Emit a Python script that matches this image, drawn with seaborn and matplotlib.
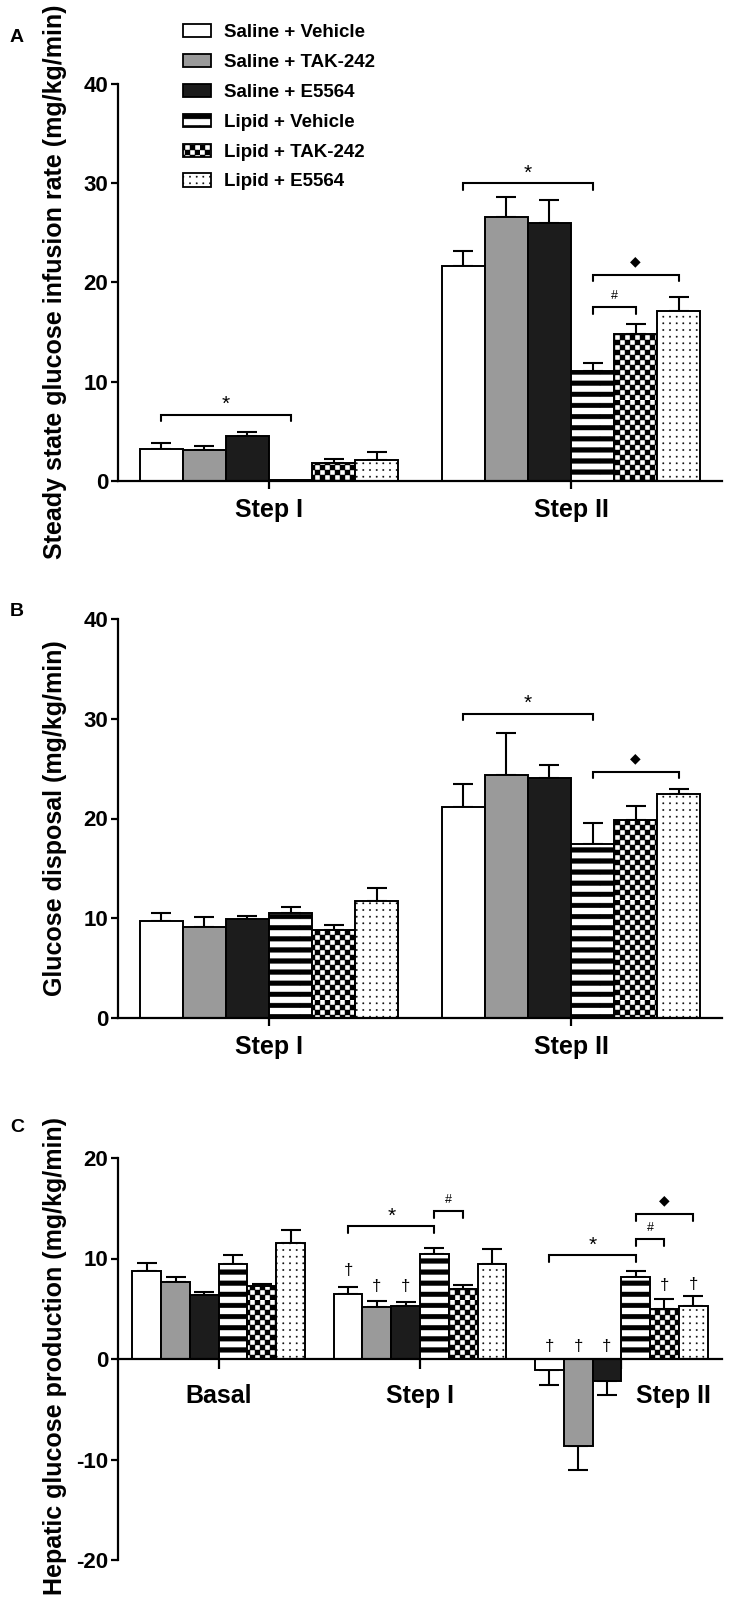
import matplotlib
matplotlib.use("Agg")
import matplotlib.hatch as mhatch
import matplotlib.pyplot as plt
import matplotlib.transforms as mtransforms
import pandas as pd
import seaborn as sns
from matplotlib.patches import Patch
from matplotlib.path import Path

# ---- data -----------------------------------------------------------------
GROUPS = ["Saline + Vehicle", "Saline + TAK-242", "Saline + E5564",
          "Lipid + Vehicle", "Lipid + TAK-242", "Lipid + E5564"]
COLORS = ["white", "#9a9a9a", "#1c1c1c", "white", "white", "white"]
HATCHES = [None, None, None, "o", "O", "."]  # stripes, checker, dots (see below)

STEPS_AB = ["Step I", "Step II"]
STEPS_C = ["Basal", "Step I", "Step II"]

# A: steady state glucose infusion rate, rows follow GROUPS
GIR_MEAN = [[3.2, 21.7], [3.1, 26.6], [4.5, 26.0],
            [0.1, 11.1], [1.8, 14.8], [2.1, 17.1]]
GIR_SEM = [[0.65, 1.45], [0.45, 2.0], [0.4, 2.3],
           [0.0, 0.75], [0.4, 1.0], [0.8, 1.4]]

# B: glucose disposal
RD_MEAN = [[9.7, 21.2], [9.1, 24.4], [9.9, 24.1],
           [10.5, 17.4], [8.8, 19.8], [11.7, 22.5]]
RD_SEM = [[0.8, 2.25], [1.0, 4.2], [0.35, 1.25],
          [0.6, 2.1], [0.55, 1.5], [1.3, 0.5]]

# C: hepatic glucose production
HGP_MEAN = [[8.8, 6.5, -1.1], [7.7, 5.2, -8.7], [6.4, 5.3, -2.2],
            [9.5, 10.4, 8.2], [7.3, 7.0, 5.0], [11.5, 9.5, 5.3]]
HGP_SEM = [[0.8, 0.65, 1.5], [0.5, 0.55, 2.3], [0.25, 0.35, 1.35],
           [0.8, 0.6, 0.55], [0.15, 0.35, 1.0], [1.3, 1.45, 0.95]]

# significance brackets: (step index, from group, to group, y, symbol)
SIG_A = [(0, 0, 3, 6.7, "*"), (1, 0, 3, 30.0, "*"),
         (1, 3, 5, 20.8, "\u25c6"), (1, 3, 4, 17.5, "#")]
SIG_B = [(1, 0, 3, 30.5, "*"), (1, 3, 5, 24.7, "\u25c6")]
SIG_C = [(1, 0, 3, 13.2, "*"), (1, 3, 4, 14.7, "#"),
         (2, 0, 3, 10.3, "*"), (2, 3, 4, 11.9, "#"), (2, 3, 5, 14.4, "\u25c6")]
# daggers in C: (step index, group, y)
DAGGER_C = [(1, 0, 8.8), (1, 1, 7.2), (1, 2, 7.2),
            (2, 0, 1.2), (2, 1, 1.2), (2, 2, 1.2), (2, 4, 7.3), (2, 5, 7.4)]

W, H = 731, 1599
BAR_SPAN = 6 / 7
DROP = 0.65
SYM_STYLE = {"*": (15, 1.0), "#": (9, 1.1), "\u25c6": (10, 1.35)}


# ---- custom fill patterns (GraphPad-like stripes / checker / dots) ---------
def _rects(vertices, codes, boxes):
    k = 0
    for x0, y0, x1, y1 in boxes:
        vertices[k:k + 5] = [(x0, y0), (x1, y0), (x1, y1), (x0, y1), (x0, y0)]
        codes[k:k + 5] = [Path.MOVETO, Path.LINETO, Path.LINETO,
                          Path.LINETO, Path.CLOSEPOLY]
        k += 5


class StripeHatch(mhatch.HatchPatternBase):
    def __init__(self, hatch, density):
        self.n = 9 if "o" in hatch else 0
        self.num_vertices = self.n * 5

    def set_vertices_and_codes(self, vertices, codes):
        n = self.n
        _rects(vertices, codes,
               [(0, (i + 0.3) / n, 1, (i + 0.72) / n) for i in range(n)])


class CheckerHatch(mhatch.HatchPatternBase):
    def __init__(self, hatch, density):
        self.n = 20 if "O" in hatch else 0
        self.num_vertices = (self.n * self.n // 2) * 5

    def set_vertices_and_codes(self, vertices, codes):
        n = self.n
        _rects(vertices, codes,
               [(i / n, j / n, (i + 1) / n, (j + 1) / n)
                for j in range(n) for i in range(n) if (i + j) % 2 == 0])


class DotHatch(mhatch.HatchPatternBase):
    def __init__(self, hatch, density):
        self.n = 15 if "." in hatch else 0
        self.num_vertices = self.n * self.n * 5

    def set_vertices_and_codes(self, vertices, codes):
        n, s = self.n, 0.006
        _rects(vertices, codes,
               [((i + 0.5) / n - s, (j + 0.5) / n - s, (i + 0.5) / n + s, (j + 0.5) / n + s)
                for j in range(n) for i in range(n)])


mhatch._hatch_types[:] = [mhatch.HorizontalHatch, mhatch.VerticalHatch,
                          mhatch.NorthEastHatch, mhatch.SouthEastHatch,
                          StripeHatch, CheckerHatch, DotHatch, mhatch.Stars]

sns.set_theme(style="ticks")
plt.rcParams.update({
    "font.family": ["Liberation Sans", "DejaVu Sans"],
    "font.weight": "bold",
    "axes.unicode_minus": False,
    "hatch.linewidth": 0.3,
    "hatch.color": "black",
    "axes.linewidth": 1.6,
    "axes.edgecolor": "black",
    "xtick.color": "black",
    "ytick.color": "black",
    "text.color": "black",
})


def px(v):
    return v / W


def py(v):
    return 1 - v / H


def draw_panel(ax, steps, means, sems, sigs, ylim, yticks):
    df = pd.DataFrame({
        "step": [s for _ in GROUPS for s in steps],
        "group": [g for g in GROUPS for _ in steps],
        "value": [v for row in means for v in row],
    })
    sns.barplot(data=df, x="step", y="value", hue="group", order=steps,
                hue_order=GROUPS, palette=dict(zip(GROUPS, COLORS)),
                width=BAR_SPAN, saturation=1, errorbar=None,
                edgecolor="black", linewidth=1.4, legend=False, ax=ax)
    bw = BAR_SPAN / len(GROUPS)
    centers = {}
    for p in ax.patches:
        xc = p.get_x() + p.get_width() / 2
        si = int(round(xc))
        gi = int(round((xc - si) / bw + (len(GROUPS) - 1) / 2))
        if HATCHES[gi]:
            p.set_hatch(HATCHES[gi])
        centers[(gi, si)] = xc

    for gi in range(len(GROUPS)):
        for si in range(len(steps)):
            m, e = means[gi][si], sems[gi][si]
            if e <= 0:
                continue
            yerr = [[0], [e]] if m >= 0 else [[e], [0]]
            ax.errorbar(centers[(gi, si)], m, yerr=yerr, fmt="none",
                        ecolor="black", elinewidth=1.5, capsize=7,
                        capthick=1.5, zorder=0.9)

    for si, g0, g1, y, sym in sigs:
        x0, x1 = centers[(g0, si)], centers[(g1, si)]
        ax.plot([x0, x0, x1, x1], [y - DROP, y, y, y - DROP],
                color="black", lw=1.5, solid_joinstyle="miter")
        size, dy = SYM_STYLE[sym]
        ax.text((x0 + x1) / 2, y + dy, sym, ha="center", va="center",
                fontsize=size, fontweight="normal")

    ax.set_xlim(-0.5, len(steps) - 0.5)
    ax.set_ylim(*ylim)
    ax.set_yticks(yticks)
    ax.set_xlabel("")
    ax.set_ylabel("")
    sns.despine(ax=ax)
    ax.tick_params(axis="y", length=5, width=1.6, pad=2, labelsize=16)
    ax.tick_params(axis="x", length=6, width=1.6, pad=6, labelsize=18)
    return centers


fig = plt.figure(figsize=(W / 100, H / 100), dpi=100)
x_left, x_right = 118, 722

ax_a = fig.add_axes([px(x_left), py(481), (x_right - x_left) / W, (481 - 84) / H])
draw_panel(ax_a, STEPS_AB, GIR_MEAN, GIR_SEM, SIG_A, (0, 40), [0, 10, 20, 30, 40])

ax_b = fig.add_axes([px(x_left), py(1018), (x_right - x_left) / W, (1018 - 619) / H])
draw_panel(ax_b, STEPS_AB, RD_MEAN, RD_SEM, SIG_B, (0, 40), [0, 10, 20, 30, 40])

ax_c = fig.add_axes([px(x_left), py(1560), (x_right - x_left) / W, (1560 - 1158) / H])
centers_c = draw_panel(ax_c, STEPS_C, HGP_MEAN, HGP_SEM, SIG_C, (-20, 20),
                       [-20, -10, 0, 10, 20])
ax_c.spines["bottom"].set_position(("data", 0))
ax_c.tick_params(axis="x", length=7, pad=11)
for si, gi, y in DAGGER_C:
    ax_c.text(centers_c[(gi, si)], y, "\u2020", ha="center", va="center",
              fontsize=12, fontweight="normal")
# Step II label sits to the right of the negative bars
lbl = ax_c.get_xticklabels()[2]
lbl.set_transform(lbl.get_transform()
                  + mtransforms.ScaledTranslation(0.52, 0, fig.dpi_scale_trans))

# y labels and panel letters
fig.text(px(55), py(282), "Steady state glucose infusion rate (mg/kg/min)",
         rotation=90, ha="center", va="center", fontsize=18)
fig.text(px(55), py(818), "Glucose disposal (mg/kg/min)",
         rotation=90, ha="center", va="center", fontsize=18)
fig.text(px(55), py(1356), "Hepatic glucose production (mg/kg/min)",
         rotation=90, ha="center", va="center", fontsize=18)
for letter, yy in [("A", 37), ("B", 611), ("C", 1127)]:
    fig.text(px(10), py(yy), letter, ha="left", va="center", fontsize=14)

handles = [Patch(facecolor=c, edgecolor="black", hatch=h, linewidth=1.3)
           for c, h in zip(COLORS, HATCHES)]
fig.legend(handles, GROUPS, loc="upper left", bbox_to_anchor=(px(183), py(24)),
           frameon=False, fontsize=13.5, handlelength=1.5, handleheight=0.7,
           handletextpad=0.7, labelspacing=0.68, borderpad=0, borderaxespad=0)

fig.savefig("out.png", dpi=100, facecolor="white")
